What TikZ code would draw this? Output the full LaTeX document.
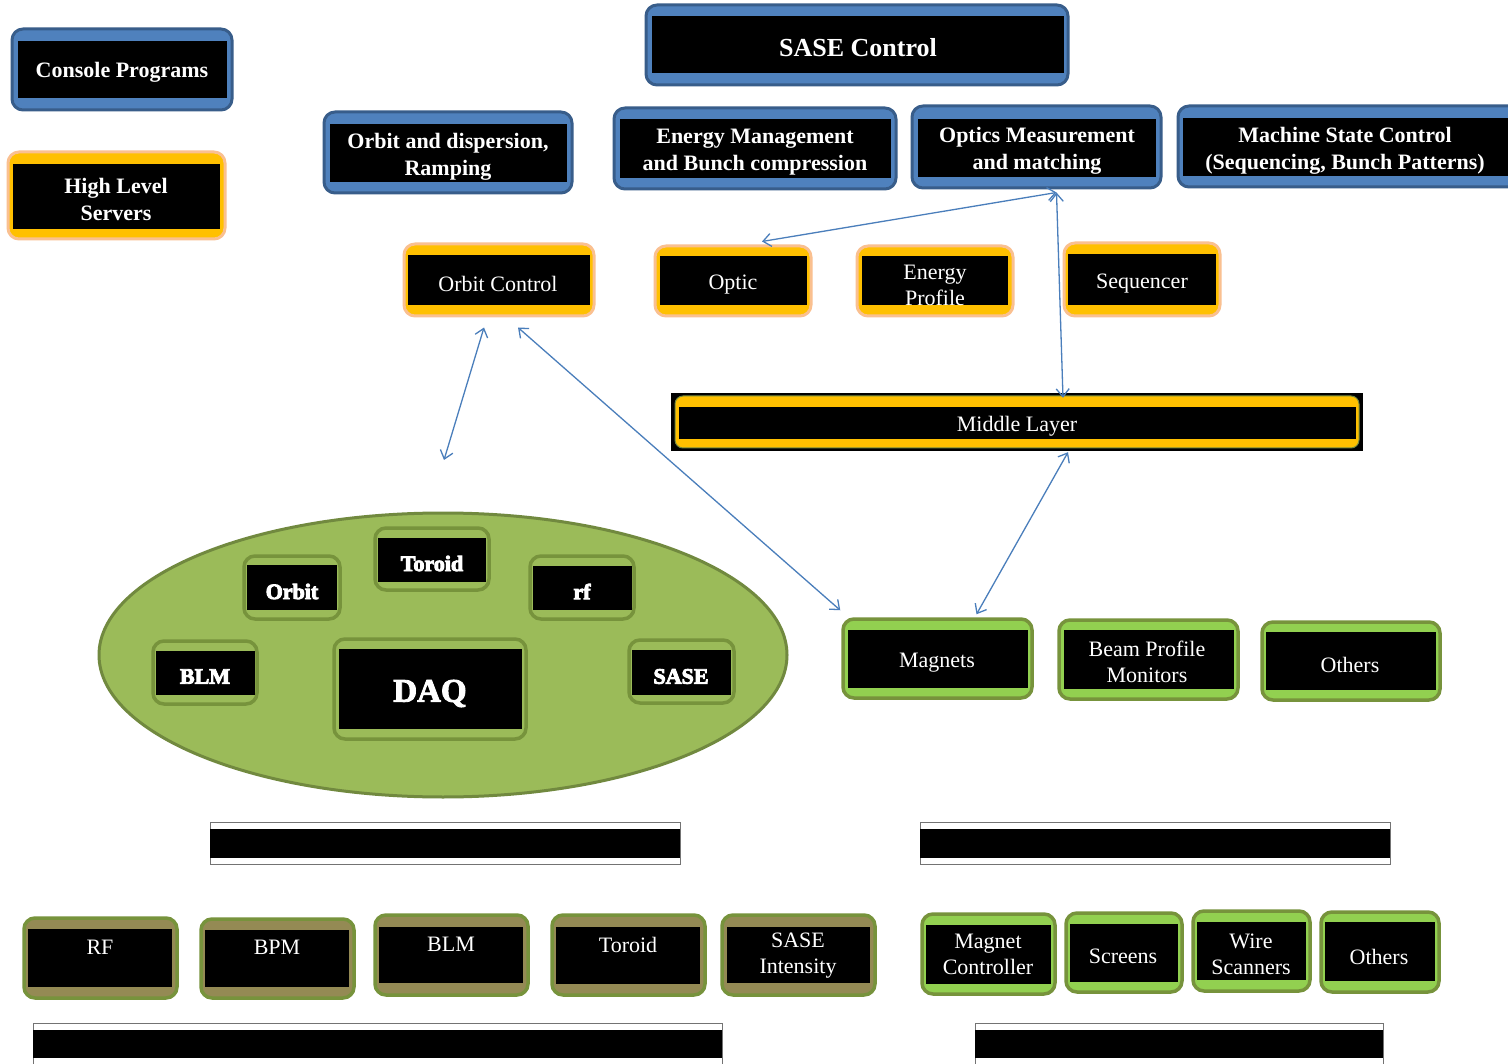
\documentclass[tikz,border=0pt]{standalone}
\usepackage{fontspec}
\setmainfont{Liberation Serif}
\usetikzlibrary{arrows.meta,fit}

\definecolor{ofblue}{HTML}{4F81BD}
\definecolor{ofblueline}{HTML}{385D8A}
\definecolor{amber}{HTML}{FFC000}
\definecolor{peach}{HTML}{FAC090}
\definecolor{olive}{HTML}{9BBB59}
\definecolor{oliveline}{HTML}{71893F}
\definecolor{grassline}{HTML}{77933C}
\definecolor{lime}{HTML}{92D050}
\definecolor{khaki}{HTML}{948A54}
\definecolor{linkblue}{HTML}{4A7EBB}

% heavier letters: fill and stroke the glyphs
\newcommand\heavy[1]{\special{pdf:literal direct 1 1 1 RG 2 Tr 0.9 w}#1\special{pdf:literal direct 0 Tr}}

\tikzset{
  frame/.style={rounded corners=11pt, inner sep=0pt, line width=3pt},
  bluebox/.style={frame, fill=ofblue, draw=ofblueline},
  ambox/.style={frame, fill=amber, draw=peach},
  dzbox/.style={frame, fill=olive, draw=grassline, line width=3.5pt},
  limebox/.style={frame, fill=lime, draw=grassline, line width=3.5pt},
  khbox/.style={frame, fill=khaki, draw=grassline, line width=3.5pt},
  txt/.style={text=white, align=center, inner sep=0pt, yshift=-2.5pt, font=\fontsize{22}{26}\selectfont},
  btxt/.style={txt, font=\fontsize{22}{27}\selectfont\bfseries},
  bigtxt/.style={txt, font=\fontsize{26}{30}\selectfont\bfseries},
  hugetxt/.style={txt, font=\fontsize{33}{38}\selectfont\bfseries},
  link/.style={draw=linkblue, line width=1.3pt, <->, >={Straight Barb[length=8pt,width=13pt]}},
  busbar/.style={draw=black!55, line width=1pt, fill=white},
}

% #1 name, #2 frame style, #3 outer corners, #4 inner black panel,
% #5 text position, #6 text, #7 text style
\newcommand\panel[7]{%
  \node[#2, fit={#3}] (#1) {};
  \fill[black] #4;
  \node[#7] at #5 {#6};
}

\begin{document}
\begin{tikzpicture}[x=1pt, y=-1pt]
\fill[white] (0,0) rectangle (1508,1064);
\useasboundingbox (0,0) rectangle (1508,1064);

% upper application layer
\panel{console}{bluebox}{(12,29) (232,110)}{(18,41) rectangle (227,98)}{(122,70)}{Console Programs}{btxt}
\panel{hls}{ambox}{(8,152) (225,239)}{(13,164) rectangle (220,229)}{(116,197)}{High Level\\Servers}{btxt}
\panel{sase}{bluebox}{(646,5) (1068,85)}{(652,16) rectangle (1064,73)}{(858,45)}{SASE Control}{bigtxt}
\panel{orbdisp}{bluebox}{(324,112) (572,193)}{(330,124) rectangle (567,182)}{(448,154)}{Orbit and dispersion,\\Ramping}{btxt}
\panel{energy}{bluebox}{(614,108) (896,189)}{(620,119) rectangle (891,178)}{(755,150)}{Energy Management\\and Bunch compression}{btxt}
\panel{optics}{bluebox}{(912,106) (1161,188)}{(918,119) rectangle (1156,177)}{(1037,148)}{Optics Measurement\\and matching}{btxt}
\panel{machine}{bluebox}{(1178,106) (1520,187)}{(1183,118) rectangle (1512,176)}{(1345,148)}{Machine State Control\\(Sequencing, Bunch Patterns)}{btxt}

% high level servers
\panel{orbc}{ambox}{(404,244) (594,316)}{(408,255) rectangle (590,305)}{(498,281)}{Orbit Control}{txt}
\panel{optic}{ambox}{(655,246) (811,316)}{(660,256) rectangle (807,305)}{(733,282)}{Optic}{txt}
\panel{eprof}{ambox}{(857,246) (1013,316)}{(862,256) rectangle (1008,305)}{(935,283)}{Energy\\Profile}{txt}
\panel{seq}{ambox}{(1064,243) (1220,316)}{(1068,254) rectangle (1216,305)}{(1142,281)}{Sequencer}{txt}

% middle layer
\node[fill=black, inner sep=0pt, fit={(671,393) (1363,451)}] (mid) {};
\draw[fill=amber, draw=oliveline, line width=1pt, rounded corners=8pt] (675,396) rectangle (1359,448);
\fill[black] (679,407) rectangle (1356,439);
\node[txt] at (1017,424) {Middle Layer};

% DAQ domain
\draw[fill=olive, draw=oliveline, line width=3pt] (443,655) ellipse [x radius=344, y radius=142];
\panel{orbit}{dzbox}{(244,556) (340,619)}{(247,565) rectangle (337,610)}{(292,589)}{\heavy{Orbit}}{btxt}
\panel{toroid}{dzbox}{(375,528) (489,590)}{(378,538) rectangle (486,582)}{(432,561)}{\heavy{Toroid}}{btxt}
\panel{rf}{dzbox}{(530,556) (634,619)}{(533,566) rectangle (632,610)}{(582,589)}{\heavy{rf}}{btxt}
\panel{blm}{dzbox}{(153,641) (257,704)}{(156,651) rectangle (255,695)}{(205,674)}{\heavy{BLM}}{btxt}
\panel{daq}{dzbox}{(334,639) (526,739)}{(339,649) rectangle (522,729)}{(430,691)}{\heavy{DAQ}}{hugetxt}
\panel{sasein}{dzbox}{(629,640) (734,703)}{(632,650) rectangle (731,695)}{(681,674)}{\heavy{SASE}}{btxt}

% middle layer devices
\panel{mag}{limebox}{(843,619) (1032,698)}{(848,630) rectangle (1028,688)}{(937,660)}{Magnets}{txt}
\panel{bpm}{limebox}{(1059,620) (1238,699)}{(1064,630) rectangle (1234,689)}{(1147,659)}{Beam Profile\\Monitors}{txt}
\panel{oth}{limebox}{(1262,622) (1440,700)}{(1266,632) rectangle (1436,690)}{(1350,662)}{Others}{txt}

% interface bars
\draw[busbar] (210,822) rectangle (680,864);
\fill[black] (210,829) rectangle (680,858);
\draw[busbar] (920,822) rectangle (1390,864);
\fill[black] (920,829) rectangle (1390,858);

% front-end systems
\panel{brf}{khbox}{(24,918) (177,998)}{(28,929) rectangle (172,987)}{(100,945)}{RF}{txt}
\panel{bbpm}{khbox}{(201,919) (354,998)}{(205,930) rectangle (349,987)}{(277,945)}{BPM}{txt}
\panel{bblm}{khbox}{(375,915) (528,995)}{(379,927) rectangle (523,983)}{(451,942)}{BLM}{txt}
\panel{btor}{khbox}{(552,915) (705,995)}{(556,927) rectangle (700,984)}{(628,942)}{Toroid}{txt}
\panel{bsase}{khbox}{(722,915) (875,995)}{(727,927) rectangle (870,983)}{(798,953)}{SASE\\Intensity}{txt}

\panel{bmc}{limebox}{(922,914) (1055,994)}{(926,925) rectangle (1051,984)}{(988,952)}{Magnet\\Controller}{txt}
\panel{bscr}{limebox}{(1066,913) (1182,992)}{(1070,924) rectangle (1178,982)}{(1123,954)}{Screens}{txt}
\panel{bwire}{limebox}{(1193,911) (1310,991)}{(1197,922) rectangle (1306,980)}{(1251,952)}{Wire\\Scanners}{txt}
\panel{both}{limebox}{(1321,912) (1439,992)}{(1325,922) rectangle (1435,981)}{(1379,954)}{Others}{txt}

% lower interface bars
\draw[busbar] (33,1023) rectangle (722,1075);
\fill[black] (33,1030) rectangle (722,1058);
\draw[busbar] (975,1023) rectangle (1383,1075);
\fill[black] (975,1030) rectangle (1383,1058);

% connections
\coordinate (daqend) at (444,460);
\draw[link] ([xshift=20pt,yshift=-3pt]optics.south) -- ([xshift=29pt,yshift=3pt]optic.north);
\draw[link] ([xshift=20pt,yshift=-3pt]optics.south) -- ([xshift=46pt,yshift=-5pt]mid.north);
\draw[link] ([xshift=-15pt,yshift=-10pt]orbc.south) -- (daqend);
\draw[link] ([xshift=19pt,yshift=-10pt]orbc.south) -- ([xshift=-1pt,yshift=7pt]mag.north west);
\draw[link] ([xshift=51pt,yshift=-1pt]mid.south) -- ([xshift=39pt,yshift=3pt]mag.north);
\end{tikzpicture}
\end{document}
